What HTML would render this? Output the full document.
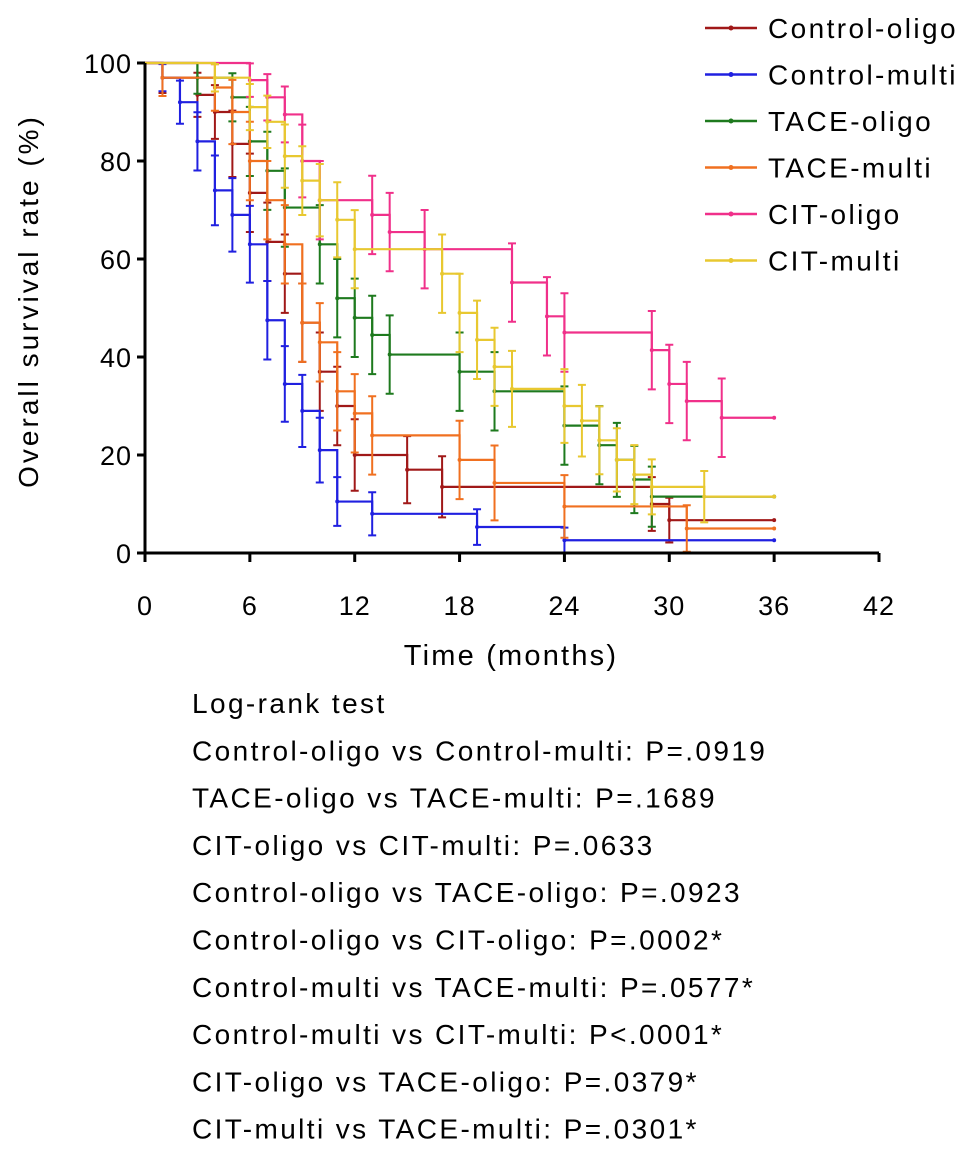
<!DOCTYPE html>
<html><head><meta charset="utf-8"><style>
body{margin:0;background:#fff;width:969px;height:1159px;overflow:hidden;font-family:"Liberation Sans",sans-serif}
svg{position:absolute;left:0;top:0}
</style></head><body>
<svg id="c" width="969" height="1159"></svg>
<script>
const seriesNames=["Control-oligo","Control-multi","TACE-oligo","TACE-multi","CIT-oligo","CIT-multi"];
const seriesColors=["#a01818","#2020e0","#1e7a1e","#f07020","#f0308a","#e8c830"];
const seriesN=[30,38,27,21,29,37];
const coT=[1,3,4,5,6,7,8,9,10,11,12,15,17,29,30,36];
const coV=[97,93.5,90,83.5,73.5,63.5,57,47,37,30,20,17,13.5,10,6.7,6.7];
const cmT=[1,2,3,4,5,6,7,8,9,10,11,13,19,24,36];
const cmV=[97,92,84,74,69,63,47.5,34.5,29,21,10.5,8,5.3,2.6,2.6];
const toT=[3,5,6,7,8,10,11,12,13,14,18,20,24,26,27,28,29,36];
const toV=[97,93,84,78,70.5,63,52,48,44.5,40.5,37,33,26,22,19,15,11.5,11.5];
const tmT=[1,4,5,6,7,8,9,10,11,12,13,18,20,24,31,36];
const tmV=[97,95,90,80,72,63,47,43,33,28.5,24,19,14.3,9.5,5,5];
const ciT=[6,7,8,9,10,13,14,16,21,23,24,29,30,31,33,36];
const ciV=[96.5,93,89.5,80,72,69,65.5,62,55.2,48.3,45,41.4,34.5,31,27.6,27.6];
const cmuT=[4,6,7,8,9,10,11,12,17,18,19,20,21,24,25,26,27,28,29,32,36];
const cmuV=[97,91,88,81,76,72,68,62,57,49,43.5,38,33.5,30,27,23,19,16,13.5,11.5,11.5];
const allT=[coT,cmT,toT,tmT,ciT,cmuT], allV=[coV,cmV,toV,tmV,ciV,cmuV];
const xTicks=[0,6,12,18,24,30,36,42], yTicks=[0,20,40,60,80,100];
const stats=["Log-rank test","Control-oligo vs Control-multi: P=.0919","TACE-oligo vs TACE-multi: P=.1689","CIT-oligo vs CIT-multi: P=.0633","Control-oligo vs TACE-oligo: P=.0923","Control-oligo vs CIT-oligo: P=.0002*","Control-multi vs TACE-multi: P=.0577*","Control-multi vs CIT-multi: P<.0001*","CIT-oligo vs TACE-oligo: P=.0379*","CIT-multi vs TACE-multi: P=.0301*"];
const X=m=>145+m*(734/42), Y=v=>553-v*4.9;
const svg=document.getElementById('c'),NS="http://www.w3.org/2000/svg";
function mk(t,a,p){const e=document.createElementNS(NS,t);for(const k in a)e.setAttribute(k,a[k]);(p||svg).appendChild(e);return e;}
allT.forEach((T,i)=>{
  const g=mk('g',{});
  
  
  const col=seriesColors[i];let d="M"+X(0)+","+Y(100);let prev=100;
  T.forEach((t,j)=>{const v=allV[i][j];
    if(j==T.length-1&&v==prev){d+=" H"+X(t);}else{d+=" H"+X(t)+" V"+Y(v);}
    prev=v;
    if(v<100&&j<T.length-1||v!=allV[i][j-1]){const se=Math.min(8,100*Math.sqrt(v/100*(1-v/100)/seriesN[i]));
      mk('path',{d:`M${X(t)},${Y(Math.min(100,v+se))}V${Y(Math.max(0,v-se))}M${X(t)-4},${Y(Math.min(100,v+se))}h8M${X(t)-4},${Y(Math.max(0,v-se))}h8`,stroke:col,'stroke-width':2,fill:'none'},g);}
    mk('circle',{cx:X(t),cy:Y(v),r:2,fill:col},g);
  });
  mk('path',{d:d,stroke:col,'stroke-width':2.2,fill:'none'},g);
});
mk('path',{d:`M145,63V553H879`,stroke:'#000','stroke-width':3,fill:'none'});
yTicks.forEach(v=>{mk('path',{d:`M137,${Y(v)}H145`,stroke:'#000','stroke-width':3});
  const t=mk('text',{x:132,y:Y(v)+10,'text-anchor':'end','font-size':27,'letter-spacing':1});t.textContent=v;
  });
xTicks.forEach(v=>{mk('path',{d:`M${X(v)},553V562`,stroke:'#000','stroke-width':3});
  const t=mk('text',{x:X(v),y:615,'text-anchor':'middle','font-size':27,'letter-spacing':1});t.textContent=v;
  });
let t=mk('text',{x:511,y:665,'text-anchor':'middle','font-size':29,'letter-spacing':2.2});t.textContent="Time (months)";

t=mk('text',{x:0,y:0,'text-anchor':'middle','font-size':28,'letter-spacing':3,transform:'translate(38,301) rotate(-90)'});t.textContent="Overall survival rate (%)";

seriesNames.forEach((n,i)=>{const y=28+i*46.5;const g=mk('g',{});
  
  mk('path',{d:`M705,${y}H757`,stroke:seriesColors[i],'stroke-width':2.5},g);
  mk('circle',{cx:731,cy:y,r:2.5,fill:seriesColors[i]},g);
  const tt=mk('text',{x:768,y:y+10,'font-size':28,'letter-spacing':2.4},g);tt.textContent=n;});
stats.forEach((s,i)=>{const tt=mk('text',{x:192,y:713+i*47.3,'font-size':28,'letter-spacing':2.4});tt.textContent=s;
  });
</script>
</body></html>
